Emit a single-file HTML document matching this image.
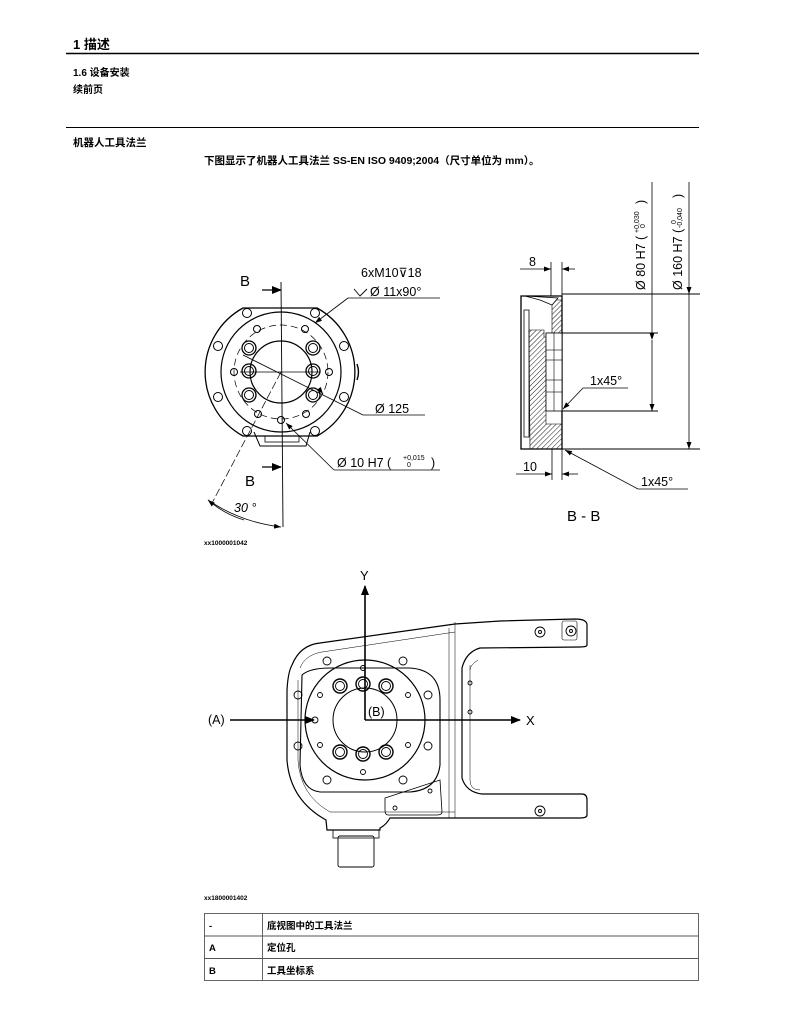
<!DOCTYPE html>
<html><head><meta charset="utf-8"><style>
html,body{margin:0;padding:0;background:#fff}
svg{display:block}
text{font-family:"Liberation Sans","Noto Sans CJK SC",sans-serif;fill:#000}
.b{font-weight:bold}
</style></head><body>
<svg width="789" height="1016" viewBox="0 0 789 1016" xmlns="http://www.w3.org/2000/svg">
<defs>
<marker id="ar" markerWidth="10" markerHeight="8" refX="9" refY="4" orient="auto" markerUnits="userSpaceOnUse"><path d="M0,0 L10,4 L0,8 z" fill="#000"/></marker>
<marker id="as" markerWidth="7" markerHeight="5" refX="7" refY="2.5" orient="auto" markerUnits="userSpaceOnUse"><path d="M0,0 L7,2.5 L0,5 z" fill="#000"/></marker>
<pattern id="h" width="3.5" height="3.5" patternUnits="userSpaceOnUse" patternTransform="rotate(45)"><line x1="0" y1="0" x2="0" y2="3.5" stroke="#000" stroke-width="0.9"/></pattern>
</defs>
<!-- header -->
<text x="73" y="49" class="b" font-size="13">1  描述</text>
<line x1="66" y1="53.5" x2="699" y2="53.5" stroke="#000" stroke-width="1.6"/>
<text x="73" y="76" class="b" font-size="10">1.6  设备安装</text>
<text x="73" y="93" class="b" font-size="10">续前页</text>
<line x1="66" y1="127.5" x2="699" y2="127.5" stroke="#000" stroke-width="0.9"/>
<text x="73" y="146" class="b" font-size="10.5">机器人工具法兰</text>
<text x="204" y="164" class="b" font-size="10.5">下图显示了机器人工具法兰 SS-EN ISO 9409;2004（尺寸单位为 mm）。</text>

<!-- top view -->
<g fill="none" stroke="#000" stroke-width="1">
<path d="M243,308 L317,308 A73,73 0 0 1 317,436 L243,436 A73,73 0 0 1 243,308 Z" stroke-width="1.3"/>
<circle cx="281" cy="372" r="60" stroke-width="1.2"/>
<circle cx="281" cy="372" r="47" stroke-dasharray="7,4" stroke-width="0.7"/>
<circle cx="281" cy="372" r="31" stroke-width="1.2"/>
<path d="M254,432 L260,446 L306,446 L310,432"/>
<rect x="265" y="436" width="34" height="6" stroke-width="0.8"/>
<path d="M357,364 q3,8 0,16" stroke-width="1.4"/>
<g stroke-width="1">
<circle cx="247" cy="313" r="4.5"/><circle cx="315" cy="313" r="4.5"/>
<circle cx="218" cy="346" r="4.5"/><circle cx="344" cy="346" r="4.5"/>
<circle cx="218" cy="397" r="4.5"/><circle cx="344" cy="397" r="4.5"/>
<circle cx="247" cy="431" r="4.5"/><circle cx="315" cy="431" r="4.5"/>
<circle cx="257" cy="329" r="3.5"/><circle cx="305" cy="329" r="3.5"/>
<circle cx="234" cy="372" r="3.5"/><circle cx="329" cy="372" r="3.5"/>
<circle cx="258" cy="414" r="3.5"/><circle cx="306" cy="414" r="3.5"/>
<circle cx="281" cy="420" r="3.5"/>
<circle cx="249" cy="348" r="7" stroke-width="1.3"/><circle cx="249" cy="348" r="4.5"/>
<circle cx="313" cy="348" r="7" stroke-width="1.3"/><circle cx="313" cy="348" r="4.5"/>
<circle cx="249" cy="371" r="7" stroke-width="1.3"/><circle cx="249" cy="371" r="4.5"/>
<circle cx="313" cy="371" r="7" stroke-width="1.3"/><circle cx="313" cy="371" r="4.5"/>
<circle cx="249" cy="395" r="7" stroke-width="1.3"/><circle cx="249" cy="395" r="4.5"/>
<circle cx="313" cy="395" r="7" stroke-width="1.3"/><circle cx="313" cy="395" r="4.5"/>
</g>
<line x1="281" y1="282" x2="283" y2="527" stroke-width="0.9"/>
<line x1="240" y1="372" x2="320" y2="372" stroke-width="0.7"/>
<line x1="281" y1="372" x2="211" y2="505" stroke-width="0.7" stroke-dasharray="8,3"/>
<line x1="262" y1="290" x2="281" y2="290" marker-end="url(#ar)" stroke-width="1.2"/>
<line x1="262" y1="467" x2="281" y2="467" marker-end="url(#ar)" stroke-width="1.2"/>
<line x1="440" y1="298" x2="348" y2="298" stroke-width="0.8"/>
<line x1="348" y1="298" x2="315" y2="323" marker-end="url(#as)" stroke-width="0.8"/>
<line x1="425" y1="415" x2="363" y2="415" stroke-width="0.8"/>
<line x1="363" y1="415" x2="243" y2="355" stroke-width="0.8"/>
<line x1="320" y1="390" x2="323" y2="394" marker-end="url(#as)" stroke-width="0.8"/>
<line x1="440" y1="470" x2="334" y2="470" stroke-width="0.8"/>
<line x1="334" y1="470" x2="286" y2="423" marker-end="url(#as)" stroke-width="0.8"/>
<path d="M208,500 Q240,522 281,527" stroke-width="0.8" marker-end="url(#as)"/>
<path d="M244,520 Q224,514 208,500" stroke-width="0.8" marker-end="url(#as)"/>
<path d="M354,289 L360,296 L367,289" stroke-width="0.9"/>
</g>
<text x="240" y="286" font-size="15">B</text>
<text x="245" y="486" font-size="15">B</text>
<text x="361" y="277" font-size="12.5">6xM10⊽18</text>
<text x="370" y="296" font-size="12.5">Ø 11x90°</text>
<text x="375" y="413" font-size="12.5">Ø 125</text>
<text x="337" y="467" font-size="12.5">Ø 10 H7 (</text>
<text x="403" y="460" font-size="7">+0,015</text>
<text x="407" y="467" font-size="7">0</text>
<text x="431" y="467" font-size="12.5">)</text>
<text x="234" y="512" font-size="12.5" font-style="italic">30 °</text>
<text x="204" y="545" class="b" font-size="6.5">xx1000001042</text>

<!-- section B-B -->
<g fill="none" stroke="#000" stroke-width="1">
<path d="M521,296 L521,449 L562,449 L562,296 Z" stroke-width="1.3"/>
<path d="M529,330 L544,330 L544,337 L552,337 L552,300 L562,300 L562,333 L546,333 L546,424 L562,424 L562,449 L530,449 Z" fill="url(#h)" stroke-width="0.6"/>
<path d="M524,310 L524,437 L529,437 L529,310 Z" stroke-width="0.8"/>
<rect x="546" y="333" width="16" height="78" fill="#fff" stroke-width="0.8"/>
<line x1="546" y1="350" x2="562" y2="350" stroke-width="0.6"/><line x1="546" y1="360" x2="562" y2="360" stroke-width="0.6"/>
<line x1="546" y1="380" x2="562" y2="380" stroke-width="0.6"/><line x1="546" y1="392" x2="562" y2="392" stroke-width="0.6"/>
<line x1="554" y1="333" x2="554" y2="411" stroke-width="0.6"/>
<path d="M525,296 L558,298 L552,305 L540,300 Z" fill="#fff" stroke-width="0.8"/>
<line x1="562" y1="294" x2="700" y2="294" stroke-width="0.9"/>
<line x1="560" y1="333" x2="658" y2="333" stroke-width="0.9"/>
<line x1="562" y1="411" x2="658" y2="411" stroke-width="0.9"/>
<line x1="562" y1="449" x2="700" y2="449" stroke-width="0.9"/>
<line x1="652" y1="182" x2="652" y2="333" stroke-width="0.8"/>
<line x1="689" y1="182" x2="689" y2="294" stroke-width="0.8"/>
<line x1="652" y1="340" x2="652" y2="411" marker-start="url(#as)" marker-end="url(#as)" stroke-width="0.8"/>
<line x1="689" y1="294" x2="689" y2="449" marker-start="url(#as)" marker-end="url(#as)" stroke-width="0.8"/>
<line x1="551" y1="262" x2="551" y2="296" stroke-width="0.8"/>
<line x1="562" y1="262" x2="562" y2="296" stroke-width="0.8"/>
<line x1="520" y1="269" x2="551" y2="269" marker-end="url(#as)" stroke-width="0.8"/>
<line x1="575" y1="269" x2="562" y2="269" marker-end="url(#as)" stroke-width="0.8"/>
<line x1="552" y1="449" x2="552" y2="480" stroke-width="0.8"/>
<line x1="562" y1="449" x2="562" y2="480" stroke-width="0.8"/>
<line x1="516" y1="474" x2="552" y2="474" marker-end="url(#as)" stroke-width="0.8"/>
<line x1="578" y1="474" x2="562" y2="474" marker-end="url(#as)" stroke-width="0.8"/>
<line x1="628" y1="388" x2="583" y2="388" stroke-width="0.8"/>
<line x1="583" y1="388" x2="563" y2="409" marker-end="url(#as)" stroke-width="0.8"/>
<line x1="688" y1="489" x2="638" y2="489" stroke-width="0.8"/>
<line x1="638" y1="489" x2="565" y2="450" marker-end="url(#as)" stroke-width="0.8"/>
</g>
<text x="529" y="266" font-size="12.5">8</text>
<text x="523" y="471" font-size="12.5">10</text>
<text x="590" y="385" font-size="12.5">1x45°</text>
<text x="641" y="486" font-size="12.5">1x45°</text>
<text x="567" y="521" font-size="15">B - B</text>
<g transform="translate(645,290) rotate(-90)"><text x="0" y="0" font-size="12.5">Ø 80 H7 (</text><text x="57" y="-6" font-size="7">+0,030</text><text x="62" y="0" font-size="7">0</text><text x="86" y="0" font-size="12.5">)</text></g>
<g transform="translate(682,290) rotate(-90)"><text x="0" y="0" font-size="12.5">Ø 160 H7 (</text><text x="66" y="-6" font-size="7">0</text><text x="62" y="0" font-size="7">-0,040</text><text x="92" y="0" font-size="12.5">)</text></g>

<!-- bottom view -->
<g fill="none" stroke="#000" stroke-width="1">
<path d="M292,665 Q300,645 320,643 L455,624 L500,621 L575,619 Q587,619 587,625 L587,645 Q587,647 580,647 L480,648 Q466,652 462,668 L462,778 Q466,792 482,794 L582,794 Q587,794 587,800 L587,815 Q587,818 580,818 L390,818 Q386,825 380,828 L380,830 L327,830 L326,820 Q290,800 287,760 L287,690 Q288,672 292,665 Z" stroke-width="1.2"/>
<path d="M300,668 Q305,655 322,652 L455,632 M298,680 L298,760 Q300,795 330,812 L455,812" stroke-width="0.5"/>
<path d="M455,622 L455,818 M449,628 L449,818" stroke-width="0.5"/>
<path d="M470,665 L470,780 Q470,790 480,790 M478,660 Q470,665 470,670" stroke-width="0.5"/>
<path d="M302,675 Q310,668 330,668 L410,668 Q440,670 440,700 L440,765 Q437,790 410,792 L320,792 Q302,790 300,765 Z" stroke-width="1.1"/>
<circle cx="365" cy="720" r="60" stroke-width="1.2"/>
<circle cx="365" cy="720" r="32" stroke-width="1"/>
<path d="M385,798 L440,780 L442,812 Q442,815 437,815 L388,815 Q385,815 385,810 Z" stroke-width="0.8"/>
<rect x="338" y="836" width="36" height="31" rx="2" stroke-width="0.9"/>
<rect x="333" y="830" width="46" height="8" stroke-width="0.8"/>
<g stroke-width="0.9">
<circle cx="327" cy="661" r="4"/><circle cx="403" cy="661" r="4"/>
<circle cx="298" cy="695" r="4"/><circle cx="428" cy="695" r="4"/>
<circle cx="298" cy="746" r="4"/><circle cx="428" cy="746" r="4"/>
<circle cx="327" cy="780" r="4"/><circle cx="403" cy="780" r="4"/>
<circle cx="363" cy="668" r="2.5"/><circle cx="363" cy="772" r="2.5"/>
<circle cx="320" cy="695" r="2.5"/><circle cx="408" cy="695" r="2.5"/>
<circle cx="320" cy="745" r="2.5"/><circle cx="408" cy="745" r="2.5"/>
<circle cx="315" cy="720" r="3"/>
<circle cx="340" cy="686" r="7" stroke-width="1.4"/><circle cx="340" cy="686" r="4.5"/>
<circle cx="363" cy="684" r="7" stroke-width="1.4"/><circle cx="363" cy="684" r="4.5"/>
<circle cx="386" cy="686" r="7" stroke-width="1.4"/><circle cx="386" cy="686" r="4.5"/>
<circle cx="340" cy="752" r="7" stroke-width="1.4"/><circle cx="340" cy="752" r="4.5"/>
<circle cx="363" cy="754" r="7" stroke-width="1.4"/><circle cx="363" cy="754" r="4.5"/>
<circle cx="386" cy="752" r="7" stroke-width="1.4"/><circle cx="386" cy="752" r="4.5"/>
<circle cx="540" cy="632" r="5"/><circle cx="540" cy="632" r="1.5"/>
<circle cx="571" cy="631" r="5"/><circle cx="571" cy="631" r="1.5"/>
<rect x="562" y="621" width="15" height="19" rx="2" stroke-width="0.6"/>
<circle cx="540" cy="811" r="5"/><circle cx="540" cy="811" r="1.5"/>
<circle cx="470" cy="683" r="2"/><circle cx="470" cy="712" r="2"/>
<circle cx="430" cy="791" r="2"/><circle cx="395" cy="808" r="2"/>
</g>
<line x1="365" y1="720" x2="365" y2="586" stroke-width="1.6" marker-end="url(#ar)"/>
<line x1="365" y1="720" x2="520" y2="720" stroke-width="1.6" marker-end="url(#ar)"/>
<line x1="230" y1="720" x2="314" y2="720" stroke-width="1.6" marker-end="url(#ar)"/>
</g>
<text x="360" y="580" font-size="13">Y</text>
<text x="526" y="725" font-size="13">X</text>
<text x="208" y="724" font-size="12.5">(A)</text>
<text x="368" y="716" font-size="12.5">(B)</text>
<text x="204" y="900" class="b" font-size="6.5">xx1800001402</text>

<!-- table -->
<g fill="none" stroke="#555" stroke-width="0.9">
<rect x="204.5" y="913.5" width="494" height="67"/>
<line x1="204" y1="936" x2="699" y2="936"/>
<line x1="204" y1="958.5" x2="699" y2="958.5"/>
<line x1="262.5" y1="913" x2="262.5" y2="981"/>
</g>
<text x="209" y="929" class="b" font-size="9.5">-</text>
<text x="267" y="929" class="b" font-size="9.5">底视图中的工具法兰</text>
<text x="209" y="951" class="b" font-size="9.5">A</text>
<text x="267" y="951" class="b" font-size="9.5">定位孔</text>
<text x="209" y="974" class="b" font-size="9.5">B</text>
<text x="267" y="974" class="b" font-size="9.5">工具坐标系</text>
</svg>
</body></html>
